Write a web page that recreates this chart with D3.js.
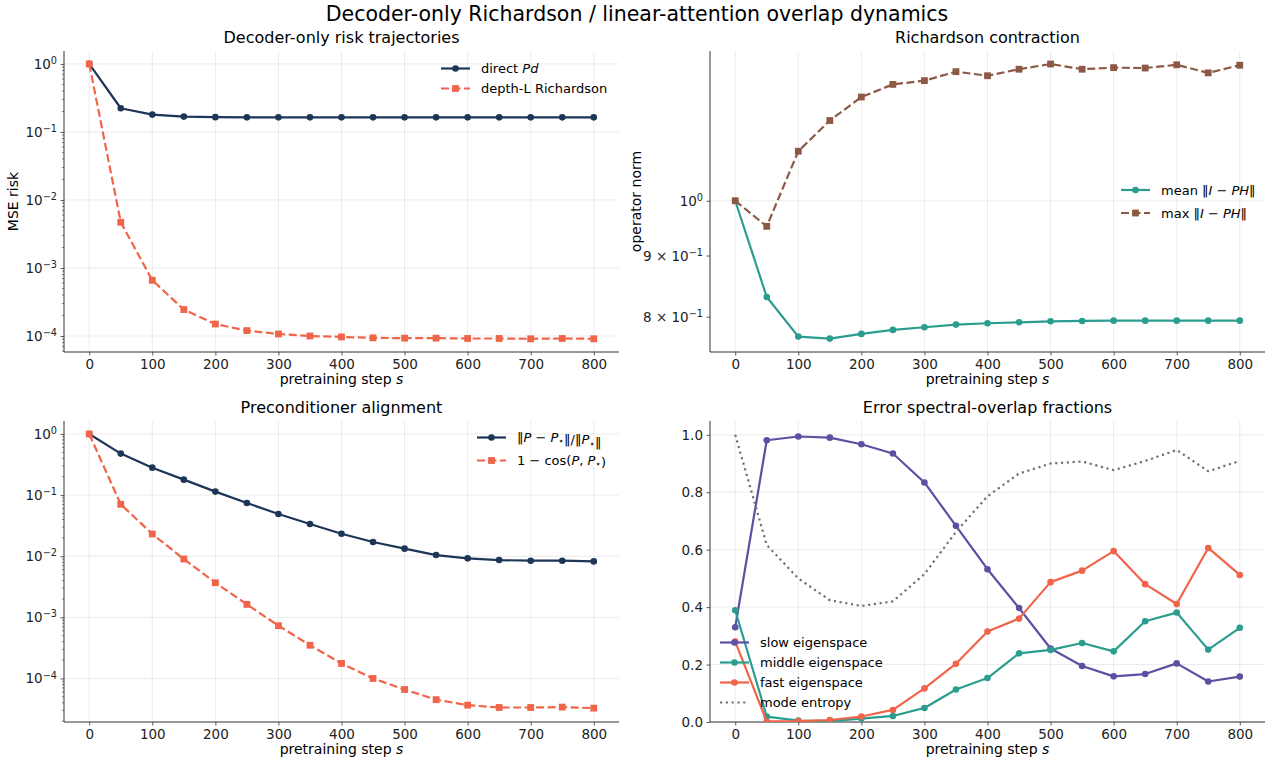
<!DOCTYPE html>
<html><head><meta charset="utf-8">
<script src="https://cdn.jsdelivr.net/npm/d3@7"></script>
<style>body{margin:0;background:#fff} svg{font-family:"DejaVu Sans",sans-serif}</style>
</head><body><svg id="c" width="1274" height="767"></svg>
<script>
// ---------------- data ----------------
const steps = [0,50,100,150,200,250,300,350,400,450,500,550,600,650,700,750,800];
const xTicks = [0,100,200,300,400,500,600,700,800];

const directPd   = [1.0,0.223,0.180,0.168,0.165,0.164,0.164,0.164,0.164,0.164,0.164,0.164,0.164,0.164,0.164,0.164,0.164];
const richardson = [1.0,0.0047,6.6e-4,2.45e-4,1.5e-4,1.2e-4,1.07e-4,1.0e-4,9.7e-5,9.4e-5,9.3e-5,9.3e-5,9.2e-5,9.2e-5,9.1e-5,9.2e-5,9.1e-5];

const meanNorm = [1.0,0.831,0.770,0.767,0.774,0.780,0.784,0.788,0.790,0.7915,0.793,0.7935,0.794,0.794,0.794,0.794,0.794];
const maxNorm  = [1.0,0.952,1.100,1.167,1.221,1.251,1.260,1.282,1.272,1.288,1.301,1.288,1.292,1.291,1.299,1.279,1.298];

const relErr = [1.0,0.477,0.281,0.179,0.114,0.0742,0.049,0.0336,0.0233,0.0171,0.0133,0.01045,0.00922,0.00865,0.00844,0.00844,0.00823];
const cosGap = [1.0,0.0706,0.0231,0.0090,0.00368,0.00163,7.3e-4,3.5e-4,1.76e-4,1.0e-4,6.6e-5,4.5e-5,3.66e-5,3.35e-5,3.35e-5,3.4e-5,3.27e-5];

const slowFrac    = [0.330,0.981,0.994,0.990,0.967,0.935,0.834,0.683,0.532,0.397,0.256,0.195,0.159,0.167,0.204,0.141,0.158];
const middleFrac  = [0.389,0.019,0.005,0.003,0.012,0.021,0.049,0.113,0.153,0.239,0.251,0.275,0.246,0.351,0.381,0.252,0.328];
const fastFrac    = [0.280,0.002,0.003,0.007,0.019,0.042,0.117,0.203,0.315,0.360,0.487,0.527,0.595,0.480,0.411,0.606,0.512];
const modeEntropy = [1.0,0.616,0.500,0.424,0.404,0.420,0.515,0.662,0.786,0.865,0.900,0.907,0.877,0.909,0.947,0.873,0.909];

const C = {navy:"#1d3557", orange:"#f0644a", teal:"#2a9d8f", brown:"#8c5a44", purple:"#5e4fa2", gray:"#707070"};

// ---------------- drawing ----------------
const svg = d3.select("#c");
const FS = 13.5;   // tick labels
const LFS = 14;    // axis labels

svg.append("text").attr("x",637).attr("y",21).attr("text-anchor","middle")
  .attr("font-size",20.5).attr("fill","#000").text("Decoder-only Richardson / linear-attention overlap dynamics");

function supLabel(sel, parts){
  sel.append("tspan").text(parts[0]);
  sel.append("tspan").attr("dy","-0.5em").attr("font-size","0.72em").text(parts[1]);
}

function panel(o){
  const g = svg.append("g");
  const x = d3.scaleLinear().domain([-40,840]).range([o.l,o.r]);
  const y = o.log ? d3.scaleLog().domain(o.yd).range([o.b,o.t]) : d3.scaleLinear().domain(o.yd).range([o.b,o.t]);
  g.selectAll(".gx").data(xTicks).enter().append("line")
    .attr("x1",d=>x(d)).attr("x2",d=>x(d)).attr("y1",o.t).attr("y2",o.b)
    .attr("stroke","#b0b0b0").attr("stroke-opacity",0.3).attr("stroke-width",0.8);
  g.selectAll(".gy").data(o.yGrid).enter().append("line")
    .attr("x1",o.l).attr("x2",o.r).attr("y1",d=>y(d)).attr("y2",d=>y(d))
    .attr("stroke","#b0b0b0").attr("stroke-opacity",0.3).attr("stroke-width",0.8);
  const xa = g.append("g").attr("transform",`translate(0,${o.b})`)
    .call(d3.axisBottom(x).tickValues(xTicks).tickSize(3.5).tickPadding(3.5).tickFormat(d3.format("d")));
  xa.select(".domain").remove();
  xa.selectAll("line").attr("stroke","#333").attr("stroke-width",0.8);
  xa.selectAll("text").attr("font-size",FS).attr("fill","#222").attr("font-family","DejaVu Sans");
  const ya = g.append("g").attr("transform",`translate(${o.l},0)`)
    .call(d3.axisLeft(y).tickValues(o.yTicks).tickSize(3.5).tickFormat(""));
  ya.select(".domain").remove();
  ya.selectAll("line").attr("stroke","#333").attr("stroke-width",0.8);
  if(o.minor){
    g.selectAll(".mn").data(o.minor).enter().append("line")
      .attr("x1",o.l-2).attr("x2",o.l).attr("y1",d=>y(d)).attr("y2",d=>y(d))
      .attr("stroke","#333").attr("stroke-width",0.6);
  }
  o.yTicks.forEach((v,i)=>{
    const t = g.append("text").attr("x",o.l-7).attr("y",y(v)+5).attr("text-anchor","end")
      .attr("font-size",FS).attr("fill","#222");
    const lab = o.yLabels[i];
    if(Array.isArray(lab)) supLabel(t,lab); else t.text(lab);
  });
  g.append("line").attr("x1",o.l).attr("x2",o.l).attr("y1",o.t).attr("y2",o.b).attr("stroke","#333").attr("stroke-width",1);
  g.append("line").attr("x1",o.l).attr("x2",o.r).attr("y1",o.b).attr("y2",o.b).attr("stroke","#333").attr("stroke-width",1);
  g.append("text").attr("x",(o.l+o.r)/2).attr("y",o.t-8).attr("text-anchor","middle").attr("font-size",16).attr("fill","#000").text(o.title);
  const xl = g.append("text").attr("x",(o.l+o.r)/2).attr("y",o.b+32).attr("text-anchor","middle").attr("font-size",LFS).attr("fill","#000");
  xl.append("tspan").text("pretraining step ");
  xl.append("tspan").attr("font-style","italic").text("s");
  if(o.ylab){
    g.append("text").attr("transform",`translate(${o.ylabX},${(o.t+o.b)/2}) rotate(-90)`)
      .attr("text-anchor","middle").attr("font-size",LFS).attr("fill","#000").text(o.ylab);
  }
  const clipId = "clip"+Math.round(o.l)+"_"+Math.round(o.t);
  svg.append("clipPath").attr("id",clipId).append("rect").attr("x",o.l).attr("y",o.t-6).attr("width",o.r-o.l+6).attr("height",o.b-o.t+6);
  o.series.forEach(s=>{
    const pts = steps.map((st,i)=>[x(st), y(s.vals[i])]);
    const sg = g.append("g").attr("clip-path",`url(#${clipId})`);
    sg.append("path").attr("d",d3.line()(pts)).attr("fill","none").attr("stroke",s.color)
      .attr("stroke-width",2.2).attr("stroke-dasharray",s.dash||null).attr("stroke-linejoin","round");
    drawMarkers(sg, pts, s);
  });
  o.series.forEach((s,i)=>{
    const ly = o.leg.y + i*o.leg.dy;
    const lx = o.leg.x;
    g.append("line").attr("x1",lx).attr("x2",lx+29).attr("y1",ly).attr("y2",ly)
      .attr("stroke",s.color).attr("stroke-width",2.2).attr("stroke-dasharray",s.dash||null);
    drawMarkers(g, [[lx+14.5,ly]], s);
    const t = g.append("text").attr("x",lx+40).attr("y",ly+4.5).attr("font-size",13).attr("fill","#000");
    s.label(t);
  });
}
function drawMarkers(g, pts, s){
  if(s.marker==="circle"){
    g.selectAll(null).data(pts).enter().append("circle").attr("cx",d=>d[0]).attr("cy",d=>d[1]).attr("r",3.3).attr("fill",s.color);
  } else if(s.marker==="square"){
    g.selectAll(null).data(pts).enter().append("rect").attr("x",d=>d[0]-3.4).attr("y",d=>d[1]-3.4).attr("width",6.8).attr("height",6.8).attr("fill",s.color);
  }
}
function logMinor(lo,hi){
  const out=[];
  for(let k=-6;k<=1;k++) for(let m=2;m<=9;m++){const v=m*Math.pow(10,k); if(v>=lo&&v<=hi) out.push(v);}
  return out;
}
function tx(parts){ return t=>parts.forEach(p=>{const s=t.append("tspan").text(p[0]); if(p[1]==="i") s.attr("font-style","italic"); if(p[1]==="sub") s.attr("font-size","0.7em").attr("dy","0.25em"); }); }

const d1 = [Math.pow(10,-4.235), Math.pow(10,0.19)];
panel({l:64,r:619,t:51,b:352,log:true,yd:d1,
  yTicks:[1e-4,1e-3,1e-2,1e-1,1], yGrid:[1e-4,1e-3,1e-2,1e-1,1],
  yLabels:[["10","−4"],["10","−3"],["10","−2"],["10","−1"],["10","0"]],
  minor:logMinor(d1[0],d1[1]),
  title:"Decoder-only risk trajectories", ylab:"MSE risk", ylabX:18,
  leg:{x:441,y:68.5,dy:20},
  series:[
    {vals:directPd,color:C.navy,marker:"circle",label:tx([["direct "],["Pd","i"]])},
    {vals:richardson,color:C.orange,marker:"square",dash:"8,3.5",label:tx([["depth-L Richardson"]])}
  ]});

const d2 = [0.7475,1.334];
panel({l:710,r:1265,t:51,b:352,log:true,yd:d2,
  yTicks:[0.8,0.9,1], yGrid:[1],
  yLabels:[["8 × 10","−1"],["9 × 10","−1"],["10","0"]],
  minor:null,
  title:"Richardson contraction", ylab:"operator norm", ylabX:641,
  leg:{x:1121,y:190,dy:23},
  series:[
    {vals:meanNorm,color:C.teal,marker:"circle",label:tx([["mean ‖"],["I − PH","i"],["‖"]])},
    {vals:maxNorm,color:C.brown,marker:"square",dash:"8,3.5",label:tx([["max ‖"],["I − PH","i"],["‖"]])}
  ]});

const d3d = [1.94e-5,1.63];
panel({l:64,r:619,t:421,b:722,log:true,yd:d3d,
  yTicks:[1e-4,1e-3,1e-2,1e-1,1], yGrid:[1e-4,1e-3,1e-2,1e-1,1],
  yLabels:[["10","−4"],["10","−3"],["10","−2"],["10","−1"],["10","0"]],
  minor:logMinor(d3d[0],d3d[1]),
  title:"Preconditioner alignment", ylab:null,
  leg:{x:477,y:437.5,dy:23},
  series:[
    {vals:relErr,color:C.navy,marker:"circle",label:tx([["‖"],["P","i"],[" − "],["P","i"],["⋆","sub"],["‖/‖",""],["P","i"],["⋆","sub"],["‖"]])},
    {vals:cosGap,color:C.orange,marker:"square",dash:"8,3.5",label:tx([["1 − cos("],["P","i"],[", "],["P","i"],["⋆","sub"],[")"]])}
  ]});

panel({l:710,r:1265,t:421,b:722,log:false,yd:[0,1.048],
  yTicks:[0,0.2,0.4,0.6,0.8,1.0], yGrid:[0,0.2,0.4,0.6,0.8,1.0],
  yLabels:["0.0","0.2","0.4","0.6","0.8","1.0"],
  minor:null,
  title:"Error spectral-overlap fractions", ylab:null,
  leg:{x:720,y:642.5,dy:20},
  series:[
    {vals:slowFrac,color:C.purple,marker:"circle",label:tx([["slow eigenspace"]])},
    {vals:middleFrac,color:C.teal,marker:"circle",label:tx([["middle eigenspace"]])},
    {vals:fastFrac,color:C.orange,marker:"circle",label:tx([["fast eigenspace"]])},
    {vals:modeEntropy,color:C.gray,marker:null,dash:"2.2,3.6",label:tx([["mode entropy"]])}
  ]});
</script></body></html>
